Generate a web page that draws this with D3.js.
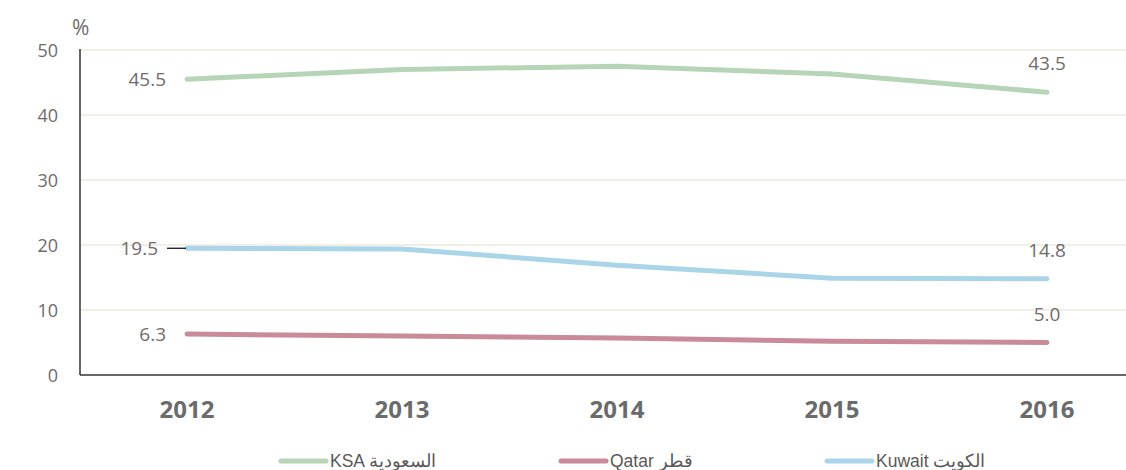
<!DOCTYPE html>
<html>
<head>
<meta charset="utf-8">
<script src="https://cdn.jsdelivr.net/npm/d3@7"></script>
<style>
  body { margin: 0; background: #fff; }
  svg { display: block; }
  .tick-y { font-family: "Open Sans", sans-serif; font-size: 18px; fill: #6f6b6b; }
  .year { font-family: "Open Sans", sans-serif; font-size: 24px; font-weight: bold; fill: #6b6b6b; }
  .lbl { font-family: "Open Sans", sans-serif; font-size: 19px; fill: #6f6b6b; }
  .legend { font-family: "Liberation Sans Narrow", "Liberation Sans", sans-serif; font-size: 17.5px; fill: #595959; }
</style>
</head>
<body>
<svg id="chart" width="1126" height="470"></svg>
<script>
const years = ['2012', '2013', '2014', '2015', '2016'];
const ksa = [45.5, 47.0, 47.5, 46.3, 43.5];
const qatar = [6.3, 6.0, 5.7, 5.2, 5.0];
const kuwait = [19.5, 19.4, 16.9, 14.9, 14.8];
const yTicks = [0, 10, 20, 30, 40, 50];

const series = [
  { name: 'KSA السعودية', values: ksa, color: '#b6d4b6', labelEnd: 166 },
  { name: 'Qatar قطر', values: qatar, color: '#c98a9a', labelEnd: 166 },
  { name: 'Kuwait الكويت', values: kuwait, color: '#aad4e7', labelEnd: 158 }
];

const svg = d3.select('#chart');
const plotLeft = 80, plotRight = 1126, plotTop = 50, plotBottom = 375;

const x = d3.scalePoint().domain(years).range([187, 1047]);
const y = d3.scaleLinear().domain([0, 50]).range([plotBottom, plotTop]);

// gridlines
svg.append('g').selectAll('line')
  .data(yTicks.filter(d => d > 0))
  .join('line')
  .attr('x1', plotLeft).attr('x2', plotRight)
  .attr('y1', d => y(d)).attr('y2', d => y(d))
  .attr('stroke', '#ece8dc').attr('stroke-width', 1.5);

// axes lines
svg.append('line').attr('x1', plotLeft).attr('x2', plotLeft).attr('y1', plotTop - 1).attr('y2', plotBottom)
  .attr('stroke', '#333').attr('stroke-width', 1.5);
svg.append('line').attr('x1', plotLeft).attr('x2', plotRight).attr('y1', plotBottom).attr('y2', plotBottom)
  .attr('stroke', '#333').attr('stroke-width', 1.5);

// y tick labels
svg.append('g').selectAll('text')
  .data(yTicks)
  .join('text')
  .attr('class', 'tick-y')
  .attr('x', 58).attr('y', d => y(d))
  .attr('text-anchor', 'end').attr('dominant-baseline', 'central')
  .text(d => d);

svg.append('text').attr('class', 'tick-y').style('font-size', '21px')
  .attr('x', 72).attr('y', 35).text('%');

// x labels
svg.append('g').selectAll('text')
  .data(years)
  .join('text')
  .attr('class', 'year')
  .attr('x', d => x(d)).attr('y', 418)
  .attr('text-anchor', 'middle')
  .text(d => d);

// lines
const line = d3.line().x((d, i) => x(years[i])).y(d => y(d));
series.forEach(s => {
  svg.append('path')
    .attr('d', line(s.values))
    .attr('fill', 'none')
    .attr('stroke', s.color)
    .attr('stroke-width', 5)
    .attr('stroke-linecap', 'round')
    .attr('stroke-linejoin', 'round');
});

// data labels: first value left, last value above
series.forEach(s => {
  const first = s.values[0], last = s.values[s.values.length - 1];
  svg.append('text').attr('class', 'lbl')
    .attr('x', s.labelEnd).attr('y', y(first))
    .attr('text-anchor', 'end').attr('dominant-baseline', 'central')
    .text(first.toFixed(1));
  svg.append('text').attr('class', 'lbl')
    .attr('x', x(years[4])).attr('y', y(last) - 29)
    .attr('text-anchor', 'middle').attr('dominant-baseline', 'central')
    .text(last.toFixed(1));
});
// leader line for Kuwait label
svg.append('line')
  .attr('x1', 167).attr('x2', 186)
  .attr('y1', y(kuwait[0])).attr('y2', y(kuwait[0]))
  .attr('stroke', '#000').attr('stroke-width', 1.2);

// legend
const legendX = [278, 558, 824];
const lg = svg.append('g');
series.forEach((s, i) => {
  lg.append('line')
    .attr('x1', legendX[i] + 3).attr('x2', legendX[i] + 48)
    .attr('y1', 461).attr('y2', 461)
    .attr('stroke', s.color).attr('stroke-width', 5).attr('stroke-linecap', 'round');
  lg.append('text').attr('class', 'legend')
    .attr('x', legendX[i] + 52).attr('y', 467)
    .attr('direction', 'ltr')
    .text(s.name);
});
</script>
</body>
</html>
